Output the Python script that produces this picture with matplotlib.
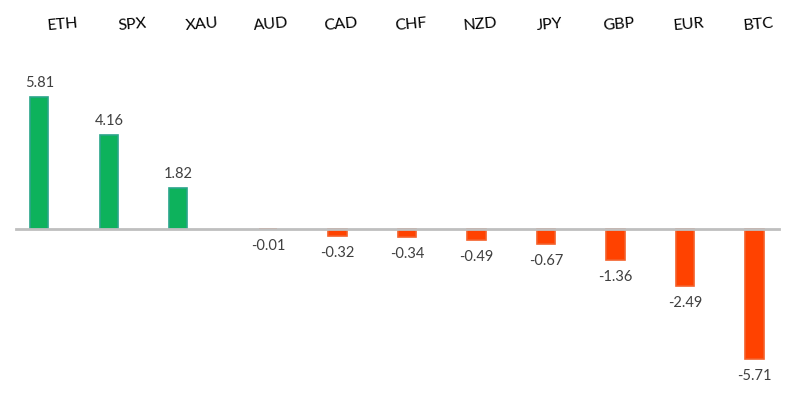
import numpy as np
import matplotlib.pyplot as plt

plt.rcParams['font.family'] = ['Lato', 'DejaVu Sans']

symbols = ['ETH', 'SPX', 'XAU', 'AUD', 'CAD', 'CHF', 'NZD', 'JPY', 'GBP', 'EUR', 'BTC']
changes = [5.81, 4.16, 1.82, -0.01, -0.32, -0.34, -0.49, -0.67, -1.36, -2.49, -5.71]

fig = plt.figure(figsize=(7.98, 3.99), dpi=100)
ax = fig.add_axes([0, 0, 1, 1])

pos = np.arange(len(symbols))
vals = np.array(changes)
# positive bars sit a bit left of their header labels in the original
xb = np.where(vals > 0, pos - 0.34, pos - 0.05)
cols = np.where(vals > 0, '#0db25c', '#ff4200')
edges = np.where(vals > 0, '#2aa58a', '#f4602a')

ax.bar(xb, vals, width=0.26, color=cols, edgecolor=edges, linewidth=1.2, zorder=2)
ax.plot([-0.68, 10.3], [0, 0], color='#bfbfbf', lw=2, zorder=3)

for x, v in zip(xb, vals):
    if v > 0:
        ax.text(x, v + 0.62, f'{v:.2f}', ha='center', va='center', fontsize=10.5, color='#404040')
    else:
        ax.text(x, v - 0.75, f'{v:.2f}', ha='center', va='center', fontsize=10.5, color='#404040')

for p, s in zip(pos, symbols):
    ax.text(p, 8.99, s, ha='center', va='center', fontsize=11.5, color='black', rotation=5)

ax.set_xlim(-0.906, 10.576)
ax.set_ylim(-7.49, 10.09)
ax.axis('off')

fig.savefig('out.png', dpi=100)
